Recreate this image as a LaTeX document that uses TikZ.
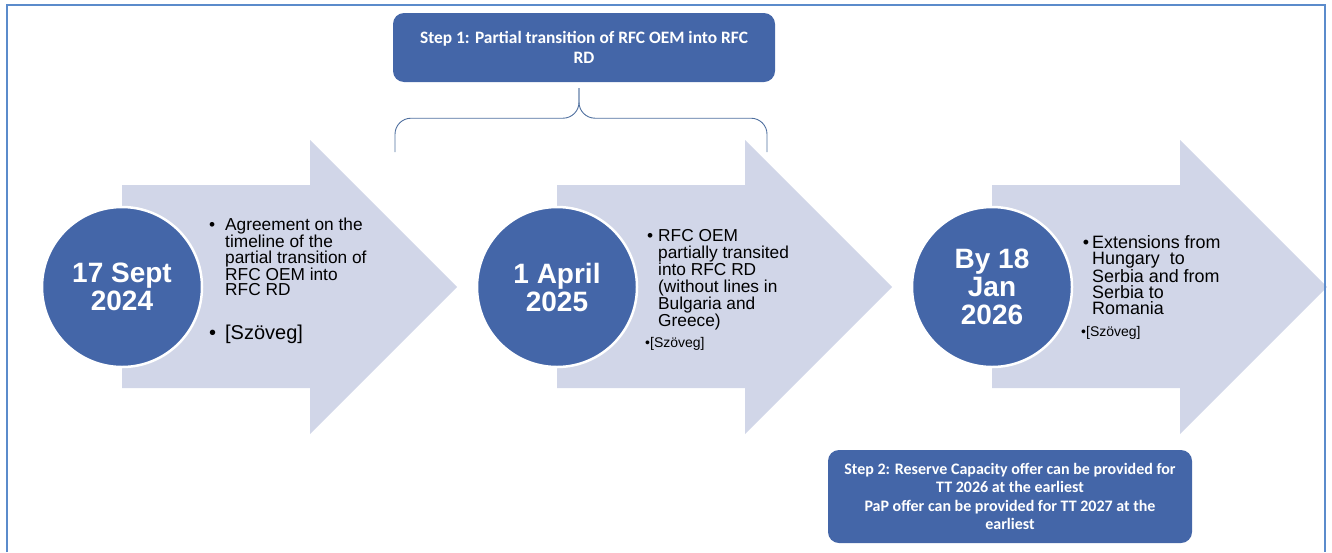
\documentclass[tikz,border=0pt]{standalone}
\usepackage{fontspec}
\setmainfont{Liberation Sans}
\newfontfamily\calibri{Carlito}
\usetikzlibrary{calc,positioning}
\definecolor{frameblue}{HTML}{5B8BCB}
\definecolor{navy}{HTML}{4466A8}
\definecolor{stepblue}{HTML}{4466A8}
\definecolor{pale}{HTML}{D1D6E8}
\definecolor{bracec}{HTML}{50709F}
\newcommand\bulletin[1]{\llap{\textbullet\hspace{#1}}}

\begin{document}
\begin{tikzpicture}[x=1pt,y=-1pt,
  datec/.style={circle,fill=navy,draw=white,line width=2.5pt,minimum size=160pt,inner sep=0pt,
    text=white,align=center,font=\fontsize{28}{28}\selectfont\bfseries},
  stepbox/.style={rounded corners=11pt,fill=stepblue,text=white,align=center,inner sep=0pt,
    font=\calibri\bfseries},
  bul/.style={anchor=north west,inner sep=0pt,align=left},
  bracel/.style={bracec,line width=0.9pt,rounded corners=16pt},
  framel/.style={frameblue,line width=2.2pt}]
\useasboundingbox (0,0) rectangle (1332,552);
% arrows and dates
\foreach \i/\bx/\d in {1/122/{17 Sept\\2024},2/557/{1 April\\2025},3/992/{By 18\\Jan\\2026}}{
  \fill[pale] (\bx,185) -- ++(188,0) -- ++(0,-45) -- ++(147,147) -- ++(-147,147) -- ++(0,-46) -- (\bx,388) -- cycle;
  \node[datec] (d\i) at (\bx,287) {\d};
}
\node[bul,font=\fontsize{17.3}{15.7}\selectfont] (t1) at (225,217.5) {\bulletin{10pt}Agreement on the\\timeline of the\\partial transition of\\RFC OEM into\\RFC RD};
\node[bul,font=\fontsize{20}{20}\selectfont] (s1) at (225,324.5) {\bulletin{9pt}[Szöveg]};
\node[bul,font=\fontsize{17.3}{17}\selectfont] (t2) at (658,229.5) {\bulletin{5pt}RFC OEM\\partially transited\\into RFC RD\\(without lines in\\Bulgaria and\\Greece)};
\node[bul,font=\fontsize{14}{14}\selectfont] (s2) at (645,337.5) {\textbullet[Szöveg]};
\node[bul,font=\fontsize{17.9}{16.2}\selectfont] (t3) at (1092,235) {\bulletin{3pt}Extensions from\\Hungary\ \ to\\Serbia and from\\Serbia to\\Romania};
\node[bul,font=\fontsize{14}{14}\selectfont] (s3) at (1081,326.5) {\textbullet[Szöveg]};
% steps
\node[stepbox,minimum width=382pt,minimum height=69pt,font=\calibri\bfseries\fontsize{17.4}{20}\selectfont] (step1) at (584,47.5)
  {Step 1: Partial transition of RFC OEM into RFC\\RD};
\node[stepbox,minimum width=364pt,minimum height=93pt,font=\calibri\bfseries\fontsize{16}{18.5}\selectfont] (step2) at (1010,496.5)
  {Step 2: Reserve Capacity offer can be provided for\\TT 2026 at the earliest\\PaP offer can be provided for TT 2027 at the\\earliest};
% brace under step 1
\coordinate (brL) at (395,152); \coordinate (brR) at (767,152);
\coordinate (tip) at ($(step1.south)+(-5,6)$);
\draw[bracel] (brL) |- ($(tip)+(0,30)$) -- (tip);
\draw[bracel] (brR) |- ($(tip)+(0,30)$) -- (tip);
% frame
\draw[framel] (7,552) -- (7,5) -- (1325,5) -- (1325,552);
\end{tikzpicture}
\end{document}
